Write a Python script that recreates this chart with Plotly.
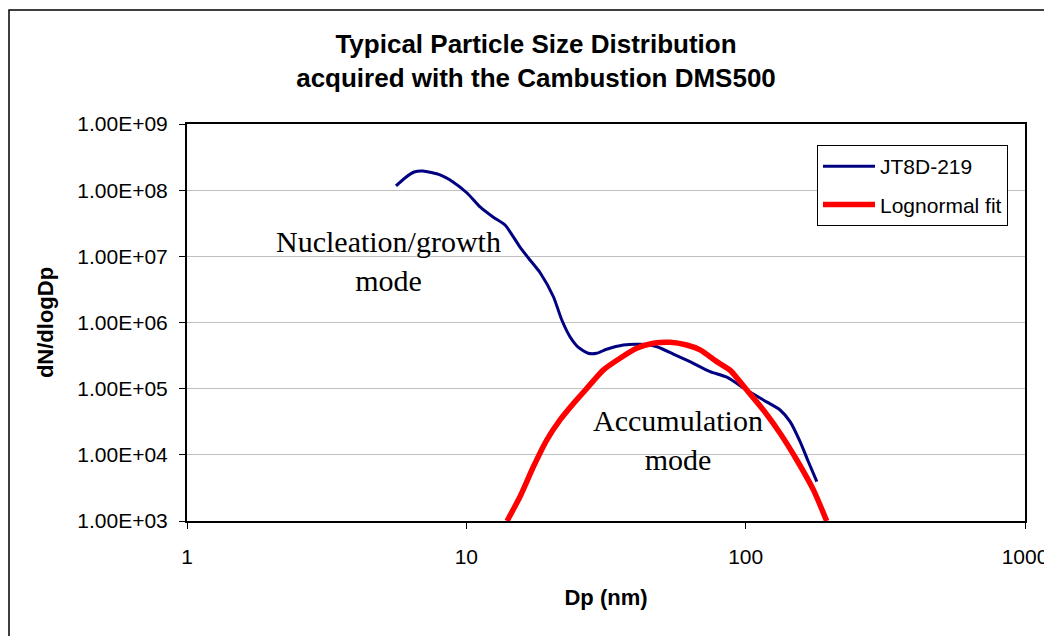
import plotly.graph_objects as go

# Measured size distribution (JT8D-219)
dp_meas = [5.60, 6.03, 6.50, 7.00, 8.05, 8.96, 10.06, 11.2, 12.46, 13.76, 15.56, 16.9, 18.4,
           20.5, 21.97, 23.5, 25.2, 27.3, 29.3, 31.8, 36.5, 41.9, 48.1, 55.1, 63.2, 74.6,
           85.6, 100.9, 115.7, 132.8, 144.2, 156.6, 167.7, 179.8]
n_meas = [1.16e8, 1.53e8, 1.88e8, 1.95e8, 1.70e8, 1.33e8, 9.06e7, 5.57e7, 3.93e7, 2.98e7,
          1.38e7, 8.8e6, 5.6e6, 2.45e6, 1.09e6, 6.1e5, 4.2e5, 3.43e5, 3.43e5, 3.94e5,
          4.57e5, 4.69e5, 4.31e5, 3.34e5, 2.56e5, 1.81e5, 1.49e5, 9.55e4, 6.74e4, 4.76e4,
          3.17e4, 1.58e4, 7.87e3, 3.93e3]

# Lognormal fit (accumulation mode)
dp_fit = [13.99, 15.56, 17.38, 19.4, 21.65, 24.2, 27.0, 30.9, 35.5, 40.7, 46.7, 53.6, 61.5,
          68.7, 78.8, 87.9, 100.9, 115.7, 132.8, 152.4, 174.8, 195.0]
n_fit = [1.0e3, 2.33e3, 6.6e3, 1.67e4, 3.37e4, 6.0e4, 1.01e5, 1.91e5, 2.88e5, 4.07e5, 4.85e5,
         5.02e5, 4.57e5, 3.85e5, 2.56e5, 1.91e5, 9.55e4, 4.76e4, 2.12e4, 8.36e3, 2.95e3, 1.0e3]

x_ticks = [1, 10, 100, 1000]
x_ticktext = ["1", "10", "100", "1000"]
y_ticks = [1e3, 1e4, 1e5, 1e6, 1e7, 1e8, 1e9]
y_ticktext = ["1.00E+03", "1.00E+04", "1.00E+05", "1.00E+06", "1.00E+07", "1.00E+08", "1.00E+09"]

FONT = "Liberation Sans"

fig = go.Figure()
fig.add_trace(go.Scatter(x=dp_meas, y=n_meas, mode="lines", name="JT8D-219",
                         line=dict(color="#000080", width=3, shape="spline", smoothing=0.6),
                         legendgroup="a"))
fig.add_trace(go.Scatter(x=dp_fit, y=n_fit, mode="lines", name="Lognormal fit",
                         line=dict(color="#FF0000", width=5.5, shape="spline", smoothing=0.6),
                         legendgroup="b"))

fig.update_layout(
    width=1044, height=636,
    margin=dict(l=187, r=19, t=124, b=115),
    paper_bgcolor="white", plot_bgcolor="white",
    font=dict(family=FONT, color="black"),
    title=dict(text="Typical Particle Size Distribution<br>acquired with the Cambustion DMS500",
               font=dict(family=FONT, size=26, weight="bold", color="black"),
               x=536 / 1044, xanchor="center", xref="container",
               y=1 - 53 / 636, yanchor="top", yref="container", automargin=False),
    xaxis=dict(type="log", range=[0, 3], tickvals=x_ticks, ticktext=x_ticktext,
               showgrid=False, zeroline=False, showline=True, linecolor="black", linewidth=2,
               mirror=True, ticks="outside", ticklen=6, tickcolor="black",
               tickfont=dict(family=FONT, size=21, color="black"), ticklabelstandoff=10,
               ticklabeloverflow="allow", automargin=False,
               title=dict(text="Dp (nm)", font=dict(family=FONT, size=22, weight="bold"),
                          standoff=22)),
    yaxis=dict(type="log", range=[3, 9], tickvals=y_ticks, ticktext=y_ticktext,
               showgrid=True, gridcolor="#C0C0C0", gridwidth=1, zeroline=False,
               showline=True, linecolor="black", linewidth=2, mirror=True,
               ticks="outside", ticklen=6, tickcolor="black",
               tickfont=dict(family=FONT, size=21, color="black"), ticklabelstandoff=7,
               automargin=False,
               title=dict(text="dN/dlogDp", font=dict(family=FONT, size=22, weight="bold"),
                          standoff=18)),
    legend=dict(x=(817 - 187) / 838, y=(521 - 145) / 397, xanchor="left", yanchor="top",
                bgcolor="white", bordercolor="black", borderwidth=1,
                font=dict(family=FONT, size=21, color="black"),
                itemwidth=52, tracegroupgap=8, traceorder="grouped"),
    showlegend=True,
)

fig.add_annotation(x=0.7197, y=6.93, xref="x", yref="y",
                   text="Nucleation/growth<br>mode", showarrow=False,
                   font=dict(family="Liberation Serif", size=30, color="black"))
fig.add_annotation(x=1.758, y=4.23, xref="x", yref="y",
                   text="Accumulation<br>mode", showarrow=False,
                   font=dict(family="Liberation Serif", size=30, color="black"))

# outer chart border
fig.add_shape(type="rect", xref="paper", yref="paper",
              x0=(9 - 187) / 838, x1=(1070 - 187) / 838,
              y0=(521 - 650) / 397, y1=(521 - 10) / 397,
              line=dict(color="black", width=1.5), fillcolor="rgba(0,0,0,0)", layer="below")

fig.write_html("out.html")
